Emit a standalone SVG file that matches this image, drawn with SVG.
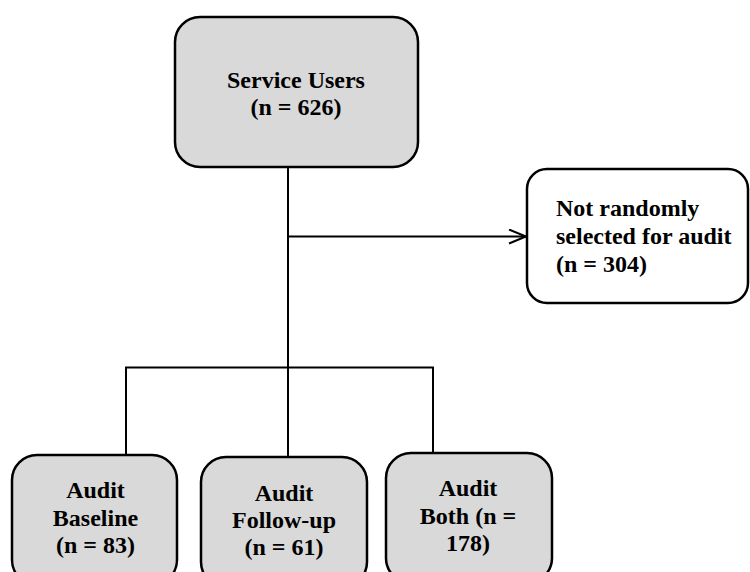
<svg xmlns="http://www.w3.org/2000/svg" width="750" height="572" viewBox="0 0 750 572">
<defs>
<style>
.box{fill:#d9d9d9;stroke:#000;stroke-width:2.5}
.wbox{fill:#fff;stroke:#000;stroke-width:2.5}
.t{font-weight:bold;font-size:24px;fill:#000}
.c{text-anchor:middle}
.ln{fill:none;stroke:#000;stroke-width:2}
</style>
<marker id="arr" markerWidth="20" markerHeight="16" refX="18" refY="8" orient="auto" markerUnits="userSpaceOnUse">
<path d="M1,1 L18,8 L1,15" fill="none" stroke="#000" stroke-width="2"/>
</marker>
</defs>
<rect width="750" height="572" fill="#fff"/>
<g id="connectors">
<line class="ln" x1="288" y1="167" x2="288" y2="458"/>
<line class="ln" x1="288" y1="236.5" x2="526" y2="236.5" marker-end="url(#arr)"/>
<polyline class="ln" points="126,455 126,367.5 433,367.5 433,452"/>
</g>
<g font-family="Liberation Serif, Times New Roman, DejaVu Serif, serif">
<g id="service-users">
<rect class="box" x="175" y="17" width="243" height="150" rx="25"/>
<text class="t c" x="296" y="88">Service Users</text>
<text class="t c" x="296" y="115">(n = 626)</text>
</g>
<g id="not-selected">
<rect class="wbox" x="527" y="169" width="221" height="134" rx="20"/>
<text class="t" x="556" y="216">Not randomly</text>
<text class="t" x="556" y="244">selected for audit</text>
<text class="t" x="556" y="272">(n = 304)</text>
</g>
<g id="audit-baseline">
<rect class="box" x="12" y="455" width="165" height="130" rx="25"/>
<text class="t c" x="95.5" y="498">Audit</text>
<text class="t c" x="95.5" y="526">Baseline</text>
<text class="t c" x="95.5" y="553">(n = 83)</text>
</g>
<g id="audit-followup">
<rect class="box" x="201" y="457" width="166" height="130" rx="25"/>
<text class="t c" x="284" y="501">Audit</text>
<text class="t c" x="284" y="528">Follow-up</text>
<text class="t c" x="284" y="555">(n = 61)</text>
</g>
<g id="audit-both">
<rect class="box" x="386" y="453" width="166" height="130" rx="25"/>
<text class="t c" x="468" y="496">Audit</text>
<text class="t c" x="468" y="524">Both (n =</text>
<text class="t c" x="468" y="551">178)</text>
</g>
</g>
</svg>
